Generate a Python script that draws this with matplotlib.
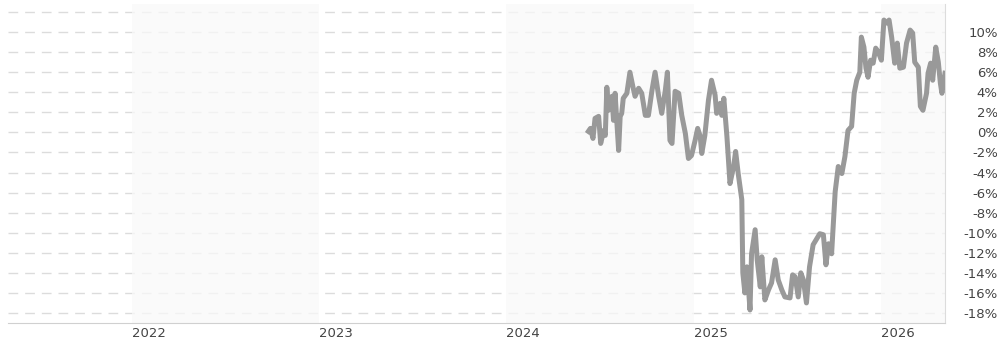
import matplotlib
matplotlib.use("Agg")
import matplotlib.pyplot as plt
import pandas as pd

dates = [
    "2024-06-09", "2024-06-13", "2024-06-18", "2024-06-22", "2024-06-29", "2024-07-03",
    "2024-07-09", "2024-07-12", "2024-07-15", "2024-07-18", "2024-07-25", "2024-07-28",
    "2024-07-31", "2024-08-07", "2024-08-10", "2024-08-13", "2024-08-16", "2024-08-23",
    "2024-08-29", "2024-09-04", "2024-09-08", "2024-09-15", "2024-09-21", "2024-09-28",
    "2024-10-04", "2024-10-11", "2024-10-17", "2024-10-24", "2024-10-30", "2024-11-06",
    "2024-11-10", "2024-11-15", "2024-11-19", "2024-11-25", "2024-12-02", "2024-12-08",
    "2024-12-15", "2024-12-21", "2024-12-27",
    "2025-01-03", "2025-01-08", "2025-01-13", "2025-01-16", "2025-01-22", "2025-01-29",
    "2025-02-04", "2025-02-11", "2025-02-14", "2025-02-21", "2025-02-24", "2025-02-28",
    "2025-03-06", "2025-03-12", "2025-03-19", "2025-03-23", "2025-03-28", "2025-04-04",
    "2025-04-06", "2025-04-10", "2025-04-14", "2025-04-20", "2025-04-23", "2025-04-30",
    "2025-05-04", "2025-05-10", "2025-05-13", "2025-05-19", "2025-05-26", "2025-06-01",
    "2025-06-08", "2025-06-14", "2025-06-21", "2025-06-27", "2025-07-07", "2025-07-12",
    "2025-07-17", "2025-07-23", "2025-07-28", "2025-08-02", "2025-08-08", "2025-08-14",
    "2025-08-21", "2025-08-28", "2025-09-03", "2025-09-10", "2025-09-15", "2025-09-20",
    "2025-09-26", "2025-10-03", "2025-10-09", "2025-10-16", "2025-10-22", "2025-10-28",
    "2025-11-04", "2025-11-09", "2025-11-14", "2025-11-20", "2025-11-23", "2025-11-28",
    "2025-12-02", "2025-12-06", "2025-12-11", "2025-12-16", "2025-12-21", "2025-12-26",
    "2026-01-01", "2026-01-06", "2026-01-11", "2026-01-16", "2026-01-21", "2026-01-27",
    "2026-02-01", "2026-02-06", "2026-02-13", "2026-02-19", "2026-02-26", "2026-03-03",
    "2026-03-07", "2026-03-14", "2026-03-18", "2026-03-23", "2026-03-30", "2026-04-02",
    "2026-04-07", "2026-04-11", "2026-04-17", "2026-04-22", "2026-04-26", "2026-04-29",
    "2026-05-05",
]
returns = [
    0.1, 0.4, -0.6, 1.4, 1.6, -1.1,
    0.2, -0.3, 4.5, 2.2, 3.6, 1.2,
    3.9, -1.8, 1.6, 1.9, 3.4, 3.9,
    6.0, 4.5, 3.6, 4.4, 3.9, 1.7,
    1.7, 4.2, 6.0, 3.6, 1.9, 4.2,
    6.0, -0.8, -1.1, 4.1, 3.9, 1.7,
    -0.1, -2.6, -2.3,
    -0.8, 0.4, -0.4, -2.1, -0.3, 3.2,
    5.2, 3.7, 1.9, 2.9, 1.7, 3.4,
    -0.4, -5.1, -3.4, -1.9, -4.1, -6.7,
    -14.0, -16.0, -13.4, -17.7, -12.1, -9.7,
    -12.7, -15.4, -12.4, -16.7, -15.7, -15.0,
    -12.7, -14.7, -15.7, -16.4, -16.5, -14.2,
    -14.4, -16.4, -14.0, -14.7, -17.0, -13.4,
    -11.2, -10.6, -10.1, -10.2, -13.2, -11.1,
    -12.1, -5.9, -3.4, -4.1, -2.4, 0.2,
    0.6, 3.9, 5.2, 6.0, 9.5, 8.5,
    6.4, 5.5, 7.2, 6.9, 8.4, 8.0,
    7.2, 11.2, 10.9, 11.2, 9.5, 6.9,
    8.9, 6.4, 6.5, 8.9, 10.2, 9.9,
    7.0, 6.5, 2.6, 2.2, 3.9, 5.9,
    6.9, 5.2, 8.5, 7.0, 4.9, 3.9,
    5.9,
]
shaded_years = [2022, 2024, 2026]
year_ticks = [2022, 2023, 2024, 2025, 2026]
y_ticks = [-18, -16, -14, -12, -10, -8, -6, -4, -2, 0, 2, 4, 6, 8, 10]
grid_levels = y_ticks + [12]

W, H = 997, 343
fig = plt.figure(figsize=(W / 100, H / 100), dpi=100)
ax = fig.add_axes([8 / W, 1 - 323 / H, (945 - 8) / W, (323 - 4) / H])

x = pd.to_datetime(dates)
x0 = pd.Timestamp("2021-05-05")
x1 = pd.Timestamp("2026-05-05")

for g in grid_levels:
    ax.axhline(g, color="#dcdcdc", lw=1.0, dashes=(7, 5), zorder=1)

for yr in shaded_years:
    ax.axvspan(pd.Timestamp(f"{yr}-01-01"), pd.Timestamp(f"{yr + 1}-01-01"),
               color="#f9f9f9", alpha=0.75, lw=0, zorder=2)

ax.plot(x, returns, color="#999999", lw=3.6, solid_joinstyle="round", zorder=3)

ax.set_xlim(x0, x1)
ax.set_ylim(-19.0, 12.8)

for s in ["top", "left"]:
    ax.spines[s].set_visible(False)
ax.spines["bottom"].set_color("#d0d0d0")
ax.spines["right"].set_color("#dcdcdc")

ax.yaxis.tick_right()
ax.set_yticks(y_ticks)
ax.set_yticklabels([f"{v}%" for v in y_ticks])
ax.tick_params(axis="y", length=0, pad=38, labelsize=9.5, labelcolor="#444444")
for lab in ax.get_yticklabels():
    lab.set_horizontalalignment("right")

ax.set_xticks([pd.Timestamp(f"{y}-01-01") for y in year_ticks])
ax.set_xticklabels([str(y) for y in year_ticks])
ax.tick_params(axis="x", length=0, pad=3, labelsize=9.5, labelcolor="#444444")
for lab in ax.get_xticklabels():
    lab.set_horizontalalignment("left")

fig.savefig("out.png", dpi=100)
